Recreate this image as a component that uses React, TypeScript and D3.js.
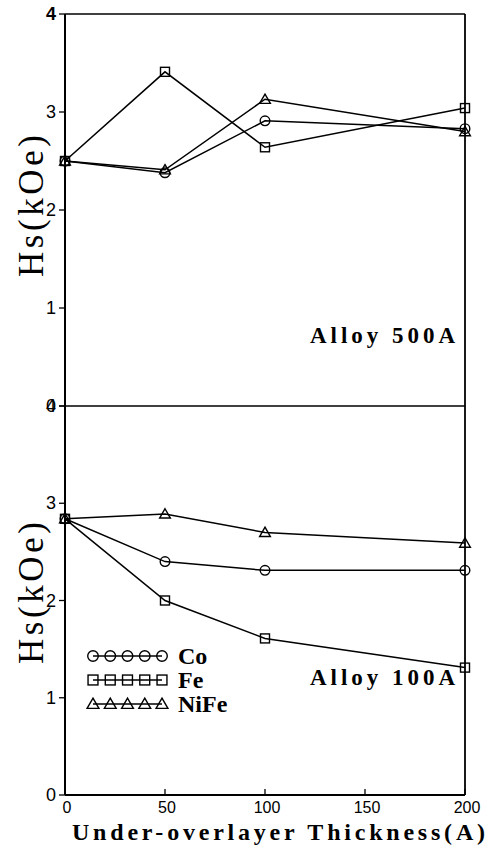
import React from "react";
import * as d3 from "d3";

// thickness of under/overlayer (A)
const thickness = [0, 50, 100, 200];

// Alloy 500A panel (top)
const co500 = [2.5, 2.38, 2.91, 2.83];
const fe500 = [2.5, 3.41, 2.64, 3.04];
const nife500 = [2.5, 2.41, 3.13, 2.8];

// Alloy 100A panel (bottom)
const co100 = [2.84, 2.4, 2.31, 2.31];
const fe100 = [2.84, 2.0, 1.61, 1.31];
const nife100 = [2.84, 2.89, 2.7, 2.59];

const xTicks = [0, 50, 100, 150, 200];
const yTicks = [0, 1, 2, 3, 4];
const legendNames = ["Co", "Fe", "NiFe"];

const W = 491;
const H = 846;
const L = 65;
const R = 465;
const TOP = 14;
const MID = 406;
const BOT = 795;

const serif = "'Liberation Serif', 'DejaVu Serif', serif";
const sans = "'Liberation Sans', Arial, sans-serif";

// open markers, the line shows through them like in the print
const Marker = ({ kind, x, y, s = 1 }: { kind: string; x: number; y: number; s?: number }) => {
  const st = { fill: "none", stroke: "#000", strokeWidth: 1.4 };
  if (kind === "Co") return <circle cx={x} cy={y} r={4.8 * s} {...st} />;
  if (kind === "Fe")
    return <rect x={x - 4.5 * s} y={y - 4.5 * s} width={9 * s} height={9 * s} {...st} />;
  const p = d3.symbol(d3.symbolTriangle, 50 * s * s)();
  return <path d={p as string} transform={`translate(${x},${y + 1})`} {...st} />;
};

const Panel = ({ y0, y1, series, label, labelY, titleY }: any) => {
  const x = d3.scaleLinear().domain([0, 200]).range([L, R]);
  const y = d3.scaleLinear().domain([0, 4]).range([y1, y0]);
  const line = d3
    .line<number>()
    .x((_, i) => x(thickness[i]))
    .y((d) => y(d));
  return (
    <g>
      {yTicks.map((t) => (
        <g key={t}>
          <line x1={L - 6} x2={L} y1={y(t)} y2={y(t)} stroke="#000" strokeWidth={1.3} />
          <text
            x={L - 9}
            y={y(t) + 6}
            textAnchor="end"
            fontFamily={sans}
            fontSize={18}
            fontWeight={t === 4 && y0 === TOP ? "bold" : "normal"}
          >
            {t}
          </text>
        </g>
      ))}
      {series.map((s: any) => (
        <g key={s.name}>
          <path d={line(s.values) as string} fill="none" stroke="#000" strokeWidth={1.5} />
          {s.values.map((v: number, i: number) => (
            <Marker key={i} kind={s.name} x={x(thickness[i])} y={y(v)} />
          ))}
        </g>
      ))}
      <text
        x={310}
        y={labelY}
        fontFamily={serif}
        fontWeight="bold"
        fontSize={23}
        textLength={145}
        lengthAdjust="spacing"
      >
        {label}
      </text>
      <text
        transform={`translate(43,${titleY}) rotate(-90)`}
        textAnchor="middle"
        fontFamily={serif}
        fontSize={35}
        textLength={142}
        lengthAdjust="spacing"
      >
        Hs(kOe)
      </text>
    </g>
  );
};

export default function App() {
  const x = d3.scaleLinear().domain([0, 200]).range([L, R]);
  const legendX = d3.scaleLinear().domain([0, 4]).range([93, 162]);
  const legendY = d3.scaleBand().domain(legendNames).range([644, 716]);
  return (
    <svg
      width={W}
      height={H}
      style={{ position: "absolute", left: 0, top: 0, background: "#fff" }}
    >
      <rect width={W} height={H} fill="#fff" />
      {/* frame */}
      <line x1={L} x2={R} y1={TOP} y2={TOP} stroke="#000" strokeWidth={1.5} />
      <line x1={L} x2={L} y1={TOP} y2={BOT} stroke="#000" strokeWidth={2} />
      <line x1={R} x2={R} y1={TOP} y2={BOT} stroke="#000" strokeWidth={1.8} />
      <line x1={L} x2={R} y1={MID} y2={MID} stroke="#000" strokeWidth={1.3} />
      <line x1={L} x2={R} y1={BOT} y2={BOT} stroke="#000" strokeWidth={1.8} />

      <Panel
        y0={TOP}
        y1={MID}
        label="Alloy 500A"
        labelY={343}
        titleY={206}
        series={[
          { name: "Fe", values: fe500 },
          { name: "Co", values: co500 },
          { name: "NiFe", values: nife500 },
        ]}
      />
      <Panel
        y0={MID}
        y1={BOT}
        label="Alloy 100A"
        labelY={685}
        titleY={593}
        series={[
          { name: "NiFe", values: nife100 },
          { name: "Co", values: co100 },
          { name: "Fe", values: fe100 },
        ]}
      />

      {/* legend */}
      {legendNames.map((n) => {
        const yy = (legendY(n) as number) + legendY.bandwidth() / 2;
        return (
          <g key={n}>
            <line x1={legendX(0)} x2={legendX(4)} y1={yy} y2={yy} stroke="#000" strokeWidth={1.3} />
            {d3.range(5).map((i) => (
              <Marker key={i} kind={n} x={legendX(i)} y={yy} s={1.1} />
            ))}
            <text x={178} y={yy + 8} fontFamily={serif} fontWeight="bold" fontSize={24}>
              {n}
            </text>
          </g>
        );
      })}

      {/* x axis */}
      {xTicks.map((t) => (
        <g key={t}>
          <line x1={x(t)} x2={x(t)} y1={BOT} y2={BOT - 6} stroke="#000" strokeWidth={1.3} />
          <text x={x(t) + 2} y={813} textAnchor="middle" fontFamily={sans} fontSize={16}>
            {t}
          </text>
        </g>
      ))}
      <text
        x={72}
        y={840}
        fontFamily={serif}
        fontWeight="bold"
        fontSize={24}
        textLength={413}
        lengthAdjust="spacing"
      >
        Under-overlayer Thickness(A)
      </text>
    </svg>
  );
}
